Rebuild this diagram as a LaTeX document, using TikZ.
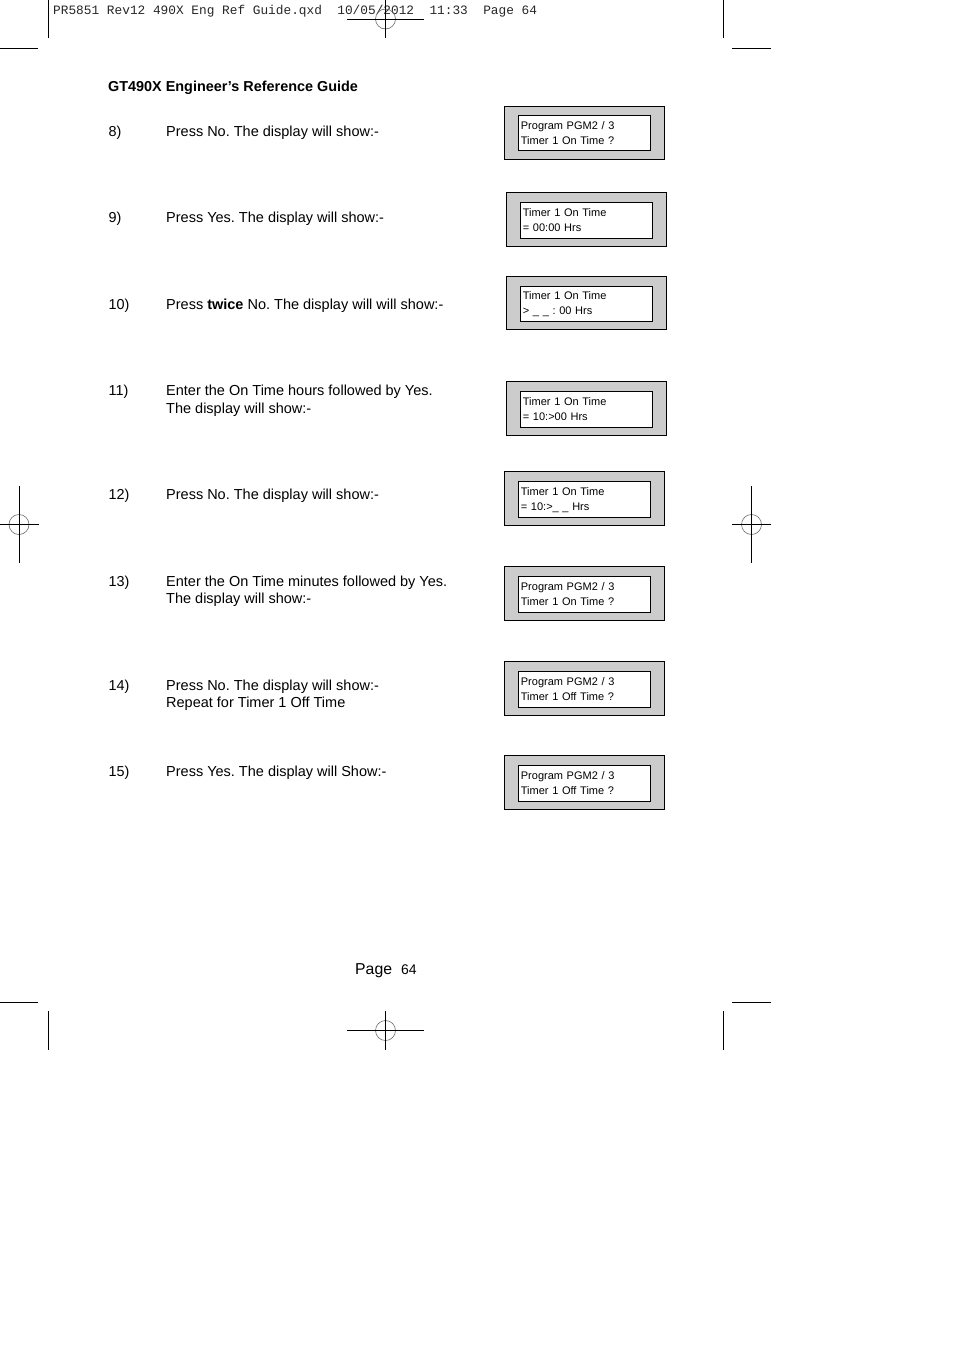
\documentclass[tikz,border=0pt]{standalone}
\usepackage{fontspec}
\setmainfont{Liberation Sans}
\newfontfamily\slugfont{Liberation Mono}
\definecolor{lcdgrey}{gray}{0.8}
\tikzset{slug/.style={inner sep=0pt,anchor=base west,text=black!85,font=\slugfont\fontsize{12.8}{15}\selectfont},
         heading/.style={inner sep=0pt,anchor=base west,font=\bfseries\fontsize{14.4}{17}\selectfont},
         stepnum/.style={inner sep=0pt,anchor=base west,font=\fontsize{14.4}{18}\selectfont},
         steptext/.style={inner sep=0pt,anchor=north west,align=left,execute at begin node=\strut\frenchspacing,font=\fontsize{14.5}{17.6}\selectfont},
         lcdframe/.style={draw,thick,fill=lcdgrey,minimum width=160pt,minimum height=53.5pt,inner sep=0pt,anchor=north west},
         lcdpanel/.style={draw,thick,fill=white,minimum width=132pt,minimum height=35pt,inner xsep=3pt,inner ysep=0pt,text width=126pt,align=left,execute at begin node=\frenchspacing,font=\fontsize{11}{15}\selectfont},
         crop/.style={thick},
         regcircle/.style={draw,black!60,semithick,circle,minimum size=20pt,inner sep=0pt},
        }
\begin{document}
\begin{tikzpicture}[x=1pt,y=-1pt]
        \useasboundingbox(0,0)rectangle(954,1350);
        \node[slug](slugline)at(53,14.5){PR5851 Rev12 490X Eng Ref Guide.qxd\ \ 10/05/2012\ \ 11:33\ \ Page 64};
        % crop marks
        \draw[crop](48,0)--(48,38);
        \draw[crop](0,48)--(38,48);
        \draw[crop](723,0)--(723,38);
        \draw[crop](732,48)--(771,48);
        \draw[crop](48,1011)--(48,1050);
        \draw[crop](0,1002)--(38,1002);
        \draw[crop](723,1011)--(723,1050);
        \draw[crop](732,1002)--(771,1002);
        % registration marks
        \foreach \name/\cx/\cy/\dx/\dy in {regtop/385.5/19/38.5/19,regbottom/385.5/1030.5/38.5/19.5,regleft/19/524.5/19.5/38.5,regright/751.5/524.5/19.5/38.5}{
            \node[regcircle](\name)at(\cx,\cy){};
            \draw[crop](\cx-\dx,\cy)--(\cx+\dx,\cy);
            \draw[crop](\cx,\cy-\dy)--(\cx,\cy+\dy);
        }
        \node[heading](title)at(108,91){GT490X Engineer’s Reference Guide};
        % steps
        \node[stepnum](n8)at(108.5,136){8)};
        \node[steptext](s8)at(166,123.5){Press No. The display will show:-};
        \node[stepnum](n9)at(108.5,222){9)};
        \node[steptext](s9)at(166,209.5){Press Yes. The display will show:-};
        \node[stepnum](n10)at(108.5,309){10)};
        \node[steptext](s10)at(166,296.5){Press \textbf{twice} No. The display will will show:-};
        \node[stepnum](n11)at(108.5,395){11)};
        \node[steptext](s11)at(166,385){Enter the On Time hours followed by Yes.\\The display will show:-};
        \node[stepnum](n12)at(108.5,499){12)};
        \node[steptext](s12)at(166,486.5){Press No. The display will show:-};
        \node[stepnum](n13)at(108.5,586){13)};
        \node[steptext](s13)at(166,575.5){Enter the On Time minutes followed by Yes.\\The display will show:-};
        \node[stepnum](n14)at(108.5,690){14)};
        \node[steptext](s14)at(166,679.5){Press No. The display will show:-\\Repeat for Timer 1 Off Time};
        \node[stepnum](n15)at(108.5,776){15)};
        \node[steptext](s15)at(166,763.5){Press Yes. The display will Show:-};
        % displays
        \node[lcdframe](d8)at(503.5,105.5){};
        \node[lcdpanel,yshift=-0.5pt](p8)at(d8.center){Program PGM2 / 3\\Timer 1 On Time ?};
        \node[lcdframe,minimum height=54pt](d9)at(505.5,191.5){};
        \node[lcdpanel,minimum height=36pt,yshift=-1pt](p9)at(d9.center){Timer 1 On Time\\= 00:00 Hrs};
        \node[lcdframe](d10)at(505.5,275.5){};
        \node[lcdpanel,yshift=-1pt](p10)at(d10.center){Timer 1 On Time\\> \_ \_ : 00 Hrs};
        \node[lcdframe,minimum height=54pt](d11)at(505.5,380.5){};
        \node[lcdpanel,minimum height=36pt,yshift=-1pt](p11)at(d11.center){Timer 1 On Time\\= 10:>00 Hrs};
        \node[lcdframe,minimum height=54pt](d12)at(503.5,470.5){};
        \node[lcdpanel,minimum height=36pt,yshift=-1pt](p12)at(d12.center){\rule{0pt}{10pt}Timer 1 On Time\\= 10:>\_ \_ Hrs};
        \node[lcdframe,minimum height=54pt](d13)at(503.5,565.5){};
        \node[lcdpanel,minimum height=36pt,yshift=-1pt](p13)at(d13.center){Program PGM2 / 3\\Timer 1 On Time ?};
        \node[lcdframe,minimum height=54pt](d14)at(503.5,660.5){};
        \node[lcdpanel,minimum height=36pt,yshift=-1pt](p14)at(d14.center){Program PGM2 / 3\\Timer 1 Off Time ?};
        \node[lcdframe,minimum height=54pt](d15)at(503.5,754.5){};
        \node[lcdpanel,minimum height=36pt,yshift=-1pt](p15)at(d15.center){Program PGM2 / 3\\Timer 1 Off Time ?};
        \node[stepnum,font=\fontsize{15.8}{18}\selectfont](pagelabel)at(355,974.5){Page};
        \node[stepnum,font=\fontsize{14}{16}\selectfont](pagenum)at(401,974.5){64};
    \end{tikzpicture}
\end{document}
